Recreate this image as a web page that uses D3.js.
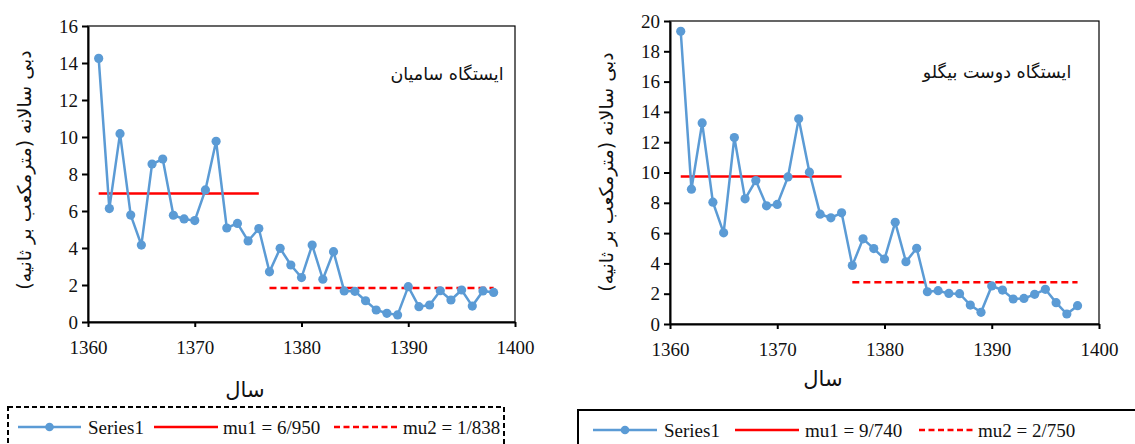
<!DOCTYPE html>
<html>
<head>
<meta charset="utf-8">
<script src="https://cdn.jsdelivr.net/npm/d3@7"></script>
<style>
  body { margin: 0; background: #fff; }
  svg { display: block; }
</style>
</head>
<body>
<svg id="chart" width="1135" height="444"></svg>
<script>
// Annual discharge, years 1361..1398 (Persian calendar)
const years = d3.range(1361, 1399);

const saminFlow = [
  14.25, 6.13, 10.18, 5.78, 4.16, 8.54, 8.81, 5.77, 5.57, 5.48,
  7.14, 9.77, 5.08, 5.33, 4.38, 5.05, 2.71, 3.98, 3.08, 2.40,
  4.16, 2.31, 3.80, 1.68, 1.66, 1.15, 0.65, 0.47, 0.38, 1.91,
  0.83, 0.92, 1.69, 1.19, 1.73, 0.86, 1.68, 1.60
];

const doostFlow = [
  19.32, 8.90, 13.27, 8.04, 6.02, 12.31, 8.26, 9.47, 7.80, 7.89,
  9.71, 13.54, 10.02, 7.25, 7.01, 7.34, 3.86, 5.62, 4.98, 4.29,
  6.71, 4.11, 5.00, 2.13, 2.20, 2.02, 2.00, 1.25, 0.77, 2.51,
  2.24, 1.65, 1.69, 1.96, 2.29, 1.41, 0.66, 1.21
];

// change-point means: [startYear, endYear, value]
const saminMu1 = [1361, 1376, 6.950];
const saminMu2 = [1377, 1398, 1.838];
const doostMu1 = [1361, 1376, 9.740];
const doostMu2 = [1377, 1398, 2.750];

const xTicks = [1360, 1370, 1380, 1390, 1400];
const saminYTicks = d3.range(0, 17, 2);
const doostYTicks = d3.range(0, 21, 2);

const yTitle = "دبی سالانه (مترمکعب بر ثانیه)";
const xTitle = "سال";

const BLUE = "#5b9bd5", RED = "#ff0000";
const SERIF = "'Liberation Serif', 'Times New Roman', serif";
const ARABIC = "'DejaVu Sans', sans-serif";

const svg = d3.select("#chart");

function drawPanel(cfg) {
  const x = d3.scaleLinear().domain([1360, 1400]).range([cfg.x0, cfg.x1]);
  const y = d3.scaleLinear().domain([0, cfg.yMax]).range([cfg.y1, cfg.y0]);
  const g = svg.append("g");

  // frame
  g.append("rect")
    .attr("x", cfg.x0).attr("y", cfg.y0)
    .attr("width", cfg.x1 - cfg.x0).attr("height", cfg.y1 - cfg.y0)
    .attr("fill", "none").attr("stroke", "#000").attr("stroke-width", 1.2);

  const yAxis = g.append("g")
    .attr("transform", `translate(${cfg.x0},0)`)
    .call(d3.axisLeft(y).tickValues(cfg.yTicks).tickSize(6).tickPadding(4).tickSizeOuter(0));
  const xAxis = g.append("g")
    .attr("transform", `translate(0,${cfg.y1})`)
    .call(d3.axisBottom(x).tickValues(xTicks).tickFormat(d3.format("d")).tickSize(5).tickPadding(14).tickSizeOuter(0));

  [yAxis, xAxis].forEach(a => {
    a.attr("font-family", null).attr("font-size", null);
    a.select(".domain").attr("stroke", "#000").attr("stroke-width", 2);
    a.selectAll(".tick line").attr("stroke", "#000").attr("stroke-width", 2);
    a.selectAll(".tick text")
      .style("font-family", SERIF).style("font-size", "19px").attr("fill", "#111");
  });

  // mean lines
  const muLine = (mu, dashed) => g.append("line")
    .attr("x1", x(mu[0])).attr("x2", x(mu[1]))
    .attr("y1", y(mu[2])).attr("y2", y(mu[2]))
    .attr("stroke", RED).attr("stroke-width", 2.5)
    .attr("stroke-dasharray", dashed ? "7,4" : null);
  muLine(cfg.mu1, false);
  muLine(cfg.mu2, true);

  // series
  const line = d3.line().x((d, i) => x(years[i])).y(d => y(d));
  g.append("path").datum(cfg.values)
    .attr("d", line).attr("fill", "none")
    .attr("stroke", BLUE).attr("stroke-width", 2.5);
  g.selectAll("circle.pt").data(cfg.values).enter().append("circle")
    .attr("class", "pt")
    .attr("cx", (d, i) => x(years[i])).attr("cy", d => y(d))
    .attr("r", 4.6).attr("fill", BLUE);

  // station title
  g.append("text")
    .attr("x", cfg.titleX).attr("y", cfg.titleY)
    .attr("text-anchor", "middle").attr("direction", "rtl")
    .attr("font-family", ARABIC).attr("font-size", 17.5).attr("fill", "#111")
    .text(cfg.title);

  // axis titles
  g.append("text")
    .attr("transform", `translate(${cfg.yTitleX},${cfg.yTitleY}) rotate(-90)`)
    .attr("text-anchor", "middle").attr("direction", "rtl")
    .attr("font-family", ARABIC).attr("font-size", 19).attr("fill", "#111")
    .text(yTitle);
  g.append("text")
    .attr("x", cfg.xTitleX).attr("y", cfg.xTitleY)
    .attr("text-anchor", "middle").attr("direction", "rtl")
    .attr("font-family", ARABIC).attr("font-size", 21).attr("fill", "#111")
    .text(xTitle);

  // legend
  const lg = svg.append("g");
  lg.append("rect")
    .attr("x", cfg.legend.x).attr("y", cfg.legend.y)
    .attr("width", cfg.legend.w).attr("height", 50)
    .attr("fill", "#fff").attr("stroke", "#000").attr("stroke-width", 2)
    .attr("stroke-dasharray", cfg.legend.dashed ? "5,3" : null);
  const ly = cfg.legend.y + 20;
  const items = [
    { label: "Series1", color: BLUE, dash: null, dot: true },
    { label: `mu1 = ${cfg.mu1Label}`, color: RED, dash: null },
    { label: `mu2 = ${cfg.mu2Label}`, color: RED, dash: "6,3.5" }
  ];
  items.forEach((it, i) => {
    const [a, b, t] = cfg.legend.pos[i];
    lg.append("line").attr("x1", a).attr("x2", b).attr("y1", ly).attr("y2", ly)
      .attr("stroke", it.color).attr("stroke-width", 2.5).attr("stroke-dasharray", it.dash);
    if (it.dot) lg.append("circle").attr("cx", (a + b) / 2).attr("cy", ly).attr("r", 4.3).attr("fill", it.color);
    lg.append("text").attr("x", t).attr("y", ly).attr("dy", "0.35em")
      .attr("font-family", SERIF).attr("font-size", 19).attr("fill", "#111")
      .text(it.label);
  });
}

drawPanel({
  x0: 88, x1: 515, y0: 26, y1: 322, yMax: 16, yTicks: saminYTicks,
  values: saminFlow, mu1: saminMu1, mu2: saminMu2,
  title: "ایستگاه سامیان", titleX: 447, titleY: 80,
  yTitleX: 31, yTitleY: 170, xTitleX: 245, xTitleY: 397,
  mu1Label: "6/950", mu2Label: "1/838",
  legend: { x: 8, y: 407, w: 496, dashed: true,
            pos: [[18, 81, 88], [154, 218, 223], [334, 397, 403]] }
});

drawPanel({
  x0: 670, x1: 1099, y0: 21, y1: 324, yMax: 20, yTicks: doostYTicks,
  values: doostFlow, mu1: doostMu1, mu2: doostMu2,
  title: "ایستگاه دوست بیگلو", titleX: 997, titleY: 78,
  yTitleX: 613, yTitleY: 172, xTitleX: 823, xTitleY: 386,
  mu1Label: "9/740", mu2Label: "2/750",
  legend: { x: 578, y: 410, w: 570, dashed: false,
            pos: [[593, 657, 664], [735, 799, 805], [919, 973, 978]] }
});
</script>
</body>
</html>
